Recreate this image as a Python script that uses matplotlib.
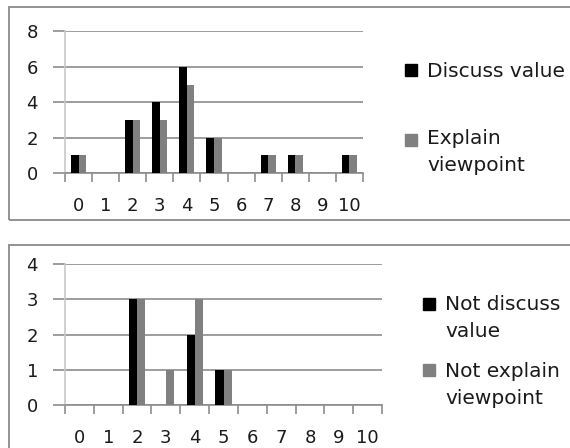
import matplotlib
matplotlib.use("Agg")
import matplotlib.pyplot as plt
from matplotlib.patches import Rectangle
import numpy as np

# Scores 0..10 and counts per group
categories = ["0", "1", "2", "3", "4", "5", "6", "7", "8", "9", "10"]
discuss_value = [1, 0, 3, 4, 6, 2, 0, 1, 1, 0, 1]
explain_viewpoint = [1, 0, 3, 3, 5, 2, 0, 1, 1, 0, 1]
not_discuss_value = [0, 0, 3, 0, 2, 1, 0, 0, 0, 0, 0]
not_explain_viewpoint = [0, 0, 3, 1, 3, 1, 0, 0, 0, 0, 0]

top_labels = ["Discuss value", "Explain\nviewpoint"]
bottom_labels = ["Not discuss\nvalue", "Not explain\nviewpoint"]
top_yticks = [0, 2, 4, 6, 8]
bottom_yticks = [0, 1, 2, 3, 4]

BLACK = "#000000"
GRAY = "#808080"
GRID = "#8c8c8c"
TXT = "#1a1a1a"
FS = 13
LFS = 14.5
LINE_GAP = 27  # px between legend text baselines

W, H = 570, 448
fig = plt.figure(figsize=(W / 100, H / 100), dpi=100)


def fx(px):
    return px / W


def fy(py):
    return 1 - py / H


def panel(left, right, y0, ytop, a, b, yticks):
    ax = fig.add_axes([fx(left), fy(y0), fx(right - left), (y0 - ytop) / H])
    x = np.arange(len(categories))
    bw = 0.28
    ax.bar(x - bw / 2, a, width=bw, color=BLACK, zorder=3)
    ax.bar(x + bw / 2, b, width=bw, color=GRAY, zorder=3)
    ax.set_xlim(-0.5, len(categories) - 0.5)
    ax.set_ylim(yticks[0], yticks[-1])
    ax.set_yticks(yticks)
    ax.yaxis.grid(True, color=GRID, linewidth=1.2, zorder=0)
    ax.set_xticks(x)
    ax.set_xticklabels(categories)
    ax.set_xticks(np.arange(-0.5, len(categories)), minor=True)
    ax.tick_params(axis="x", which="major", length=0, pad=17.5, labelsize=FS, colors=TXT)
    ax.tick_params(axis="x", which="minor", length=6.5, width=1.2, color=GRID, direction="out")
    ax.tick_params(axis="y", length=8.6, width=1.2, color=GRID, pad=10.8, labelsize=FS, labelcolor=TXT)
    for s in ("top", "right"):
        ax.spines[s].set_visible(False)
    ax.spines["bottom"].set_color(GRID)
    ax.spines["bottom"].set_linewidth(1.2)
    ax.spines["left"].set_color("#c8c8c8")
    ax.spines["left"].set_linewidth(1.2)
    ax.set_axisbelow(True)
    return ax


def legend_entry(x_sq, y_sq, color, x_txt, y_base, text):
    fig.patches.append(Rectangle((fx(x_sq), fy(y_sq + 6)), fx(12), 12 / H,
                                 transform=fig.transFigure, color=color))
    for i, line in enumerate(text.split("\n")):
        fig.text(fx(x_txt), fy(y_base + i * LINE_GAP), line, fontsize=LFS,
                 va="baseline", ha="left", color=TXT)


def frame(x0, y0, x1, y1):
    fig.patches.append(Rectangle((fx(x0), fy(y1)), fx(x1 - x0), (y1 - y0) / H,
                                 transform=fig.transFigure, fill=False,
                                 edgecolor="#8a8a8a", linewidth=1.3))


# Top chart
frame(9, 7, 580, 220)
panel(65, 363, 173, 31.5, discuss_value, explain_viewpoint, top_yticks)
legend_entry(405, 70, BLACK, 427, 77, top_labels[0])
legend_entry(405, 140, GRAY, 427, 144, top_labels[1])

# Bottom chart
frame(9, 245, 580, 460)
panel(65, 382, 405, 264, not_discuss_value, not_explain_viewpoint, bottom_yticks)
legend_entry(423, 303.5, BLACK, 445, 310, bottom_labels[0])
legend_entry(423, 370, GRAY, 445, 377, bottom_labels[1])

fig.savefig("out.png", dpi=100)
